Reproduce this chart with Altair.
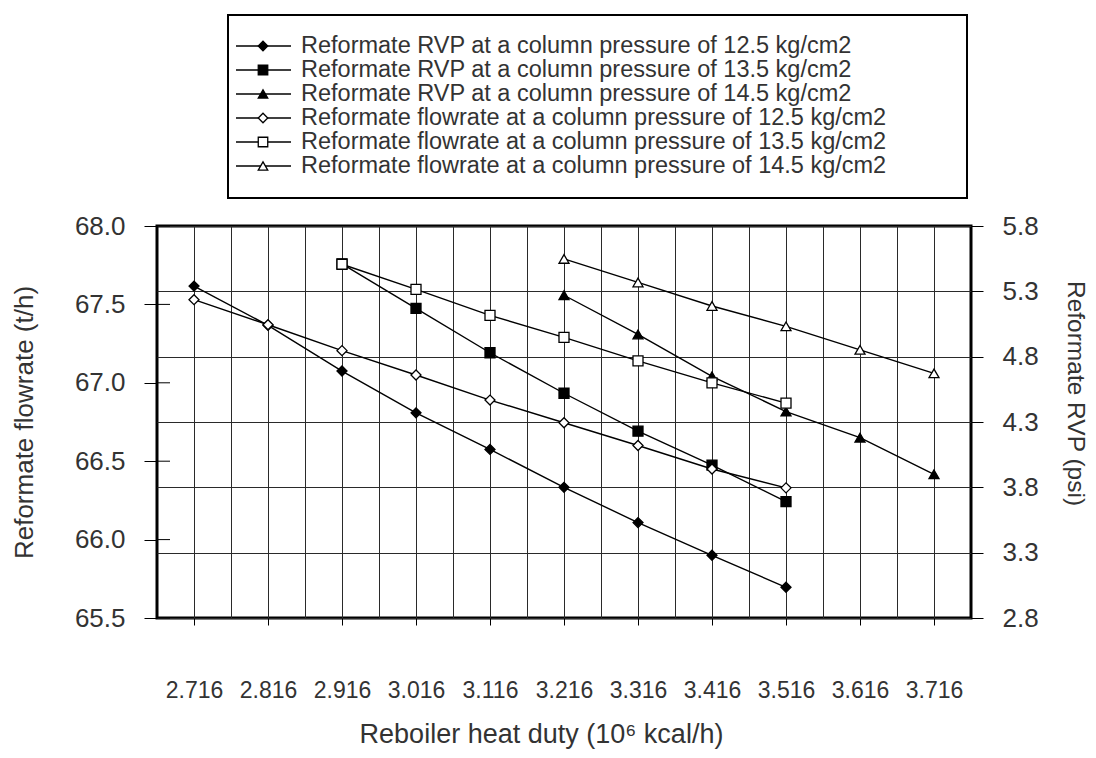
import altair as alt
import pandas as pd

# ---------------- data ----------------
series_names = [
    "Reformate RVP at a column pressure of 12.5 kg/cm2",
    "Reformate RVP at a column pressure of 13.5 kg/cm2",
    "Reformate RVP at a column pressure of 14.5 kg/cm2",
    "Reformate flowrate at a column pressure of 12.5 kg/cm2",
    "Reformate flowrate at a column pressure of 13.5 kg/cm2",
    "Reformate flowrate at a column pressure of 14.5 kg/cm2",
]

duty_125 = [2.716, 2.816, 2.916, 3.016, 3.116, 3.216, 3.316, 3.416, 3.516]
duty_135 = [2.916, 3.016, 3.116, 3.216, 3.316, 3.416, 3.516]
duty_145 = [3.216, 3.316, 3.416, 3.516, 3.616, 3.716]

rvp_125 = [5.34, 5.04, 4.69, 4.37, 4.09, 3.80, 3.53, 3.28, 3.035]
rvp_135 = [5.51, 5.17, 4.83, 4.52, 4.23, 3.97, 3.69]
rvp_145 = [5.27, 4.97, 4.65, 4.38, 4.18, 3.90]

flow_125 = [67.53, 67.37, 67.205, 67.05, 66.89, 66.745, 66.60, 66.45, 66.33]
flow_135 = [67.756, 67.596, 67.43, 67.29, 67.14, 67.00, 66.87]
flow_145 = [67.79, 67.64, 67.49, 67.36, 67.21, 67.06]

x_grid_values = [2.716, 2.766, 2.816, 2.866, 2.916, 2.966, 3.016, 3.066, 3.116, 3.166,
                 3.216, 3.266, 3.316, 3.366, 3.416, 3.466, 3.516, 3.566, 3.616, 3.666, 3.716]
flow_ticks = [65.5, 66.0, 66.5, 67.0, 67.5, 68.0]
rvp_ticks = [2.8, 3.3, 3.8, 4.3, 4.8, 5.3, 5.8]

# ---------------- tables ----------------
rvp_df = pd.DataFrame(
    [(series_names[0], d, v) for d, v in zip(duty_125, rvp_125)]
    + [(series_names[1], d, v) for d, v in zip(duty_135, rvp_135)]
    + [(series_names[2], d, v) for d, v in zip(duty_145, rvp_145)],
    columns=["series", "duty", "value"],
)
flow_df = pd.DataFrame(
    [(series_names[3], d, v) for d, v in zip(duty_125, flow_125)]
    + [(series_names[4], d, v) for d, v in zip(duty_135, flow_135)]
    + [(series_names[5], d, v) for d, v in zip(duty_145, flow_145)],
    columns=["series", "duty", "value"],
)
legend_df = pd.DataFrame({"series": series_names})
ticks_df = pd.DataFrame({"tick": flow_ticks})
box_df = pd.DataFrame({"box": [0]})

FONT = "Liberation Sans"
TXT = "#333333"
GRID = "#2a2a2a"

point_shapes = ["diamond", "square", "triangle-up", "diamond", "square", "triangle-up"]
point_fills = ["black", "black", "black", "white", "white", "white"]

is_label = "abs(datum.value*10 - round(datum.value*10) - 0.16) < 0.01"

x_axis = alt.Axis(
    values=x_grid_values,
    grid=True, gridColor=GRID, gridWidth=1, gridOpacity=1,
    domain=False,
    ticks=True, tickSize=7, tickColor="black", tickWidth=1,
    tickOpacity={"condition": {"test": is_label, "value": 1}, "value": 0},
    labelExpr=f"({is_label}) ? format(datum.value, '.3f') : ''",
    labelOverlap=False, labelFlush=False,
    labelFont=FONT, labelFontSize=23, labelColor=TXT, labelPadding=54,
    title="Reboiler heat duty (10\u2076 kcal/h)",
    titleFont=FONT, titleFontSize=27, titleFontWeight="normal", titleColor=TXT,
    titleX=384, titleY=116, titleAlign="center", titleBaseline="middle",
)

x_enc = alt.X("duty:Q", scale=alt.Scale(domain=[2.666, 3.766], nice=False, zero=False), axis=x_axis)

left_axis = alt.Axis(
    orient="left", values=flow_ticks, format=".1f", grid=False, domain=False,
    tickSize=13, tickColor="black", tickWidth=1,
    labelFont=FONT, labelFontSize=26, labelColor=TXT, labelPadding=19,
    title="Reformate flowrate (t/h)", titleFont=FONT, titleFontSize=26,
    titleFontWeight="normal", titleColor=TXT,
    titleAngle=270, titleX=-133, titleY=196, titleAlign="center", titleBaseline="middle",
)
right_axis = alt.Axis(
    orient="right", values=rvp_ticks, format=".1f",
    grid=True, gridColor=GRID, gridWidth=1, gridOpacity=1, domain=False,
    tickSize=12, tickColor="black", tickWidth=1,
    labelFont=FONT, labelFontSize=26, labelColor=TXT, labelPadding=19,
    title="Reformate RVP (psi)", titleFont=FONT, titleFontSize=24.5,
    titleFontWeight="normal", titleColor=TXT,
    titleAngle=90, titleX=103, titleY=167, titleAlign="center", titleBaseline="middle",
)

flow_scale = alt.Scale(domain=[65.5, 68.0], nice=False, zero=False)
rvp_scale = alt.Scale(domain=[2.8, 5.8], nice=False, zero=False)


def shape_enc():
    return alt.Shape("series:N", scale=alt.Scale(domain=series_names, range=point_shapes), legend=None)


def fill_enc():
    return alt.Fill("series:N", scale=alt.Scale(domain=series_names, range=point_fills), legend=None)


rvp_lines = alt.Chart(rvp_df).mark_line(color="black", strokeWidth=1.4).encode(
    x=x_enc, y=alt.Y("value:Q", scale=rvp_scale, axis=right_axis), detail="series:N"
)
flow_lines = alt.Chart(flow_df).mark_line(color="black", strokeWidth=1.4).encode(
    x=x_enc, y=alt.Y("value:Q", scale=flow_scale, axis=left_axis), detail="series:N"
)


def points(df, scale):
    return alt.Chart(df).mark_point(
        filled=True, stroke="black", strokeWidth=1.3, opacity=1, size=100
    ).encode(
        x=x_enc,
        y=alt.Y("value:Q", scale=scale, axis=None),
        shape=shape_enc(),
        fill=fill_enc(),
    )


rvp_points = points(rvp_df, rvp_scale)
flow_points = points(flow_df, flow_scale)

# inner half of the left-axis ticks (they cross the frame in the reference)
inner_ticks = alt.Chart(ticks_df).mark_rule(color="black", strokeWidth=1).encode(
    y=alt.Y("tick:Q", scale=flow_scale, axis=None),
    x=alt.value(0), x2=alt.value(13),
)

# ---------------- legend (drawn above the plot) ----------------
legend_y = alt.Y(
    "series:N",
    scale=alt.Scale(type="point", domain=series_names, range=[-180, -60], padding=0),
    axis=None,
)

legend_box = alt.Chart(box_df).mark_rect(
    fillOpacity=0, stroke="black", strokeWidth=2
).encode(
    x=alt.value(71), x2=alt.value(810), y=alt.value(-211), y2=alt.value(-28)
)

legend_lines = alt.Chart(legend_df).mark_rule(color="black", strokeWidth=1.4).encode(
    y=legend_y, x=alt.value(79), x2=alt.value(134)
)

legend_marks = alt.Chart(legend_df).mark_point(
    filled=True, stroke="black", strokeWidth=1.3, opacity=1, size=90
).encode(
    y=legend_y, x=alt.value(106), shape=shape_enc(), fill=fill_enc()
)

legend_text = alt.Chart(legend_df).mark_text(
    align="left", baseline="middle", font=FONT, fontSize=23.5, color=TXT
).encode(
    y=legend_y, x=alt.value(144), text="series:N"
)

chart = alt.layer(
    rvp_lines, flow_lines, rvp_points, flow_points, inner_ticks,
    legend_box, legend_lines, legend_marks, legend_text,
).resolve_scale(
    y="independent", shape="independent", fill="independent"
).properties(
    width=814, height=392,
    autosize=alt.AutoSizeParams(type="none"),
    padding={"left": 149, "top": 218, "right": 117, "bottom": 132},
).configure_view(
    stroke="black", strokeWidth=3
)

chart.save("out.html", embed_options={"renderer": "svg", "actions": False})
